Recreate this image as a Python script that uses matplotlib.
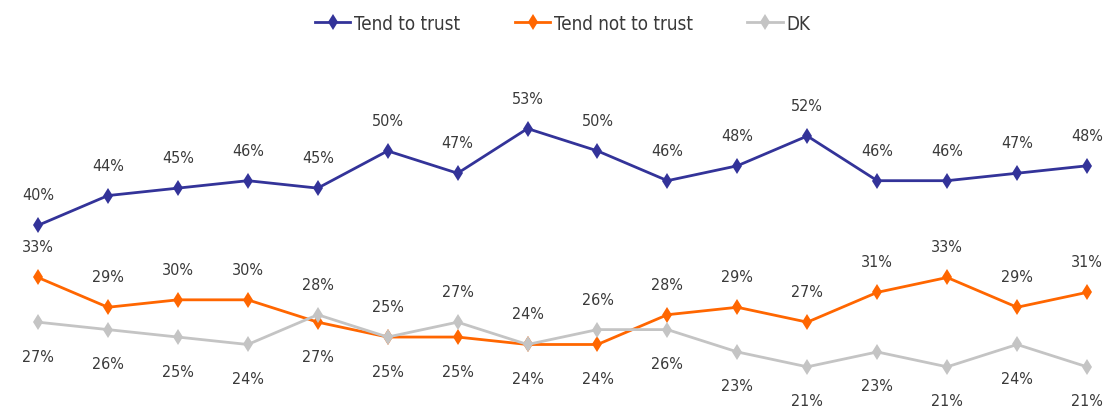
import matplotlib
matplotlib.use("Agg")
import matplotlib.pyplot as plt

# survey waves (16 points, no axis labels shown in the chart)
waves = list(range(16))

trust = [40, 44, 45, 46, 45, 50, 47, 53, 50, 46, 48, 52, 46, 46, 47, 48]
not_trust = [33, 29, 30, 30, 27, 25, 25, 24, 24, 28, 29, 27, 31, 33, 29, 31]
dk = [27, 26, 25, 24, 28, 25, 27, 24, 26, 26, 23, 21, 23, 21, 24, 21]

# which waves have the "tend not to trust" label below its point (DK goes above there)
not_trust_below = [4, 5, 6, 7, 8]

NAVY = "#333399"
ORANGE = "#FF6600"
GREY = "#C4C4C4"
TEXT = "#3a3a3a"

plt.rcParams["font.family"] = ["DejaVu Sans"]

fig = plt.figure(figsize=(11.08, 4.14), dpi=100)
ax = fig.add_axes([0, 0, 1, 1])

series = [
    ("Tend to trust", trust, NAVY),
    ("Tend not to trust", not_trust, ORANGE),
    ("DK", dk, GREY),
]
for name, vals, col in series:
    ax.plot(waves, vals, color=col, lw=2.0, marker="d", ms=8.5,
            markeredgewidth=0, label=name)


def label(x, v, above):
    ax.annotate(f"{v}%", xy=(x, v), xytext=(0, 22 if above else -24.5),
                textcoords="offset points", ha="center", va="center",
                fontsize=11.5, color=TEXT, stretch="condensed")


for i in waves:
    label(i, trust[i], True)
    nt_below = i in not_trust_below
    label(i, not_trust[i], not nt_below)
    label(i, dk[i], nt_below)

ax.set_xlim(-0.543, 15.30)
ax.set_ylim(14.8, 70.4)
ax.axis("off")

fig.legend(loc="upper center", bbox_to_anchor=(0.508, 1.005), ncol=3,
           frameon=False, handlelength=1.9, columnspacing=2.9,
           handletextpad=0.2, labelcolor=TEXT,
           prop={"size": 13.5, "stretch": "condensed"})

fig.savefig("out.png", dpi=100, facecolor="white")
